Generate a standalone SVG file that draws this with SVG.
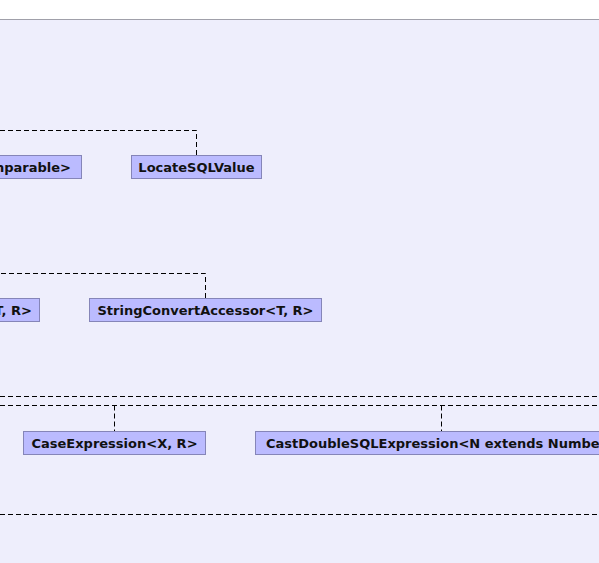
<svg xmlns="http://www.w3.org/2000/svg" width="599" height="563" viewBox="0 0 599 563">
<style>
.node rect{fill:#bbbbff;stroke:#8585b8;stroke-width:1}
.node text{font-family:"DejaVu Sans",sans-serif;font-weight:bold;font-size:13px;fill:#111}
.edges path{fill:none;stroke:#000;stroke-width:1;stroke-dasharray:5,3}
</style>
<rect x="0" y="0" width="599" height="563" fill="#ffffff"/>
<rect x="-2" y="19.5" width="603" height="550" fill="#eeeefc" stroke="#a0a0aa" stroke-width="1"/>
<g class="edges">
<path d="M196.5,155 V130.5 H0"/>
<path d="M205.5,298 V273.5 H0"/>
<path d="M0,396.5 H599"/>
<path d="M0,405.5 H599"/>
<path d="M114.5,405.5 V431"/>
<path d="M441.5,405.5 V431"/>
<path d="M0,514.5 H599"/>
</g>
<g id="node-comparable" class="node">
<rect x="-120" y="155.5" width="201.5" height="23"/>
<text x="71" y="171.5" text-anchor="end">Comparable&gt;</text>
</g>
<g id="node-locatesqlvalue" class="node">
<rect x="131.5" y="155.5" width="130" height="23"/>
<text x="196.5" y="171.5" text-anchor="middle">LocateSQLValue</text>
</g>
<g id="node-tr" class="node">
<rect x="-120" y="298.5" width="159.5" height="23"/>
<text x="32" y="314.5" text-anchor="end">T, R&gt;</text>
</g>
<g id="node-stringconvertaccessor" class="node">
<rect x="89.5" y="298.5" width="232" height="23"/>
<text x="205.5" y="314.5" text-anchor="middle">StringConvertAccessor&lt;T, R&gt;</text>
</g>
<g id="node-caseexpression" class="node">
<rect x="23.5" y="431.5" width="182" height="23"/>
<text x="114.5" y="447.5" text-anchor="middle">CaseExpression&lt;X, R&gt;</text>
</g>
<g id="node-castdouble" class="node">
<rect x="255.5" y="431.5" width="372" height="23"/>
<text x="266" y="447.5">CastDoubleSQLExpression&lt;N extends Number&gt;</text>
</g>
</svg>
